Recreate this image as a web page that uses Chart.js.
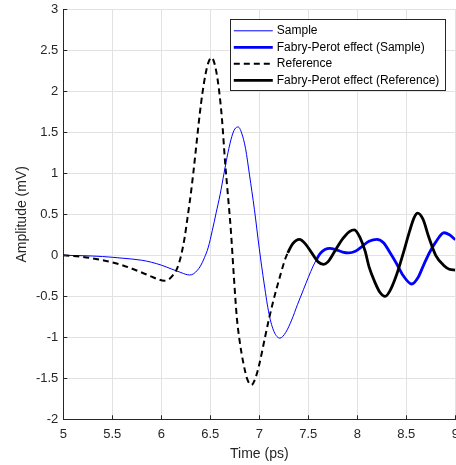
<!DOCTYPE html>
<html>
<head>
<meta charset="utf-8">
<title>Pulse amplitude</title>
<script src="https://cdn.jsdelivr.net/npm/chart.js@4.4.0/dist/chart.umd.min.js"></script>
<style>
	html, body { margin: 0; padding: 0; background: #fff; overflow: hidden; }
	#wrap { position: relative; width: 456px; height: 465px; }
</style>
</head>
<body>
<div id="wrap"><canvas id="pulseChart"></canvas></div>
<script>
/* Axis ticks */
const xTicks = [5, 5.5, 6, 6.5, 7, 7.5, 8, 8.5, 9];
const yTicks = [-2, -1.5, -1, -0.5, 0, 0.5, 1, 1.5, 2, 2.5, 3];

/* Sample pulse (ps, mV) */
const sampleTime = [5.0, 5.2, 5.4, 5.6, 5.8, 5.9, 6.0, 6.1, 6.2, 6.25, 6.29, 6.33, 6.37, 6.4,
	6.44, 6.48, 6.52, 6.56, 6.6, 6.64, 6.68, 6.72, 6.75, 6.785, 6.82, 6.86, 6.9, 6.95, 7.0,
	7.05, 7.1, 7.15, 7.21, 7.27, 7.33, 7.39, 7.45, 7.5, 7.55, 7.58];
const sampleAmp = [0, -0.005, -0.015, -0.035, -0.06, -0.085, -0.12, -0.165, -0.21, -0.232,
	-0.24, -0.225, -0.18, -0.13, -0.03, 0.1, 0.3, 0.52, 0.74, 1.0, 1.25, 1.45, 1.54, 1.565,
	1.49, 1.3, 0.98, 0.56, 0.08, -0.35, -0.72, -0.93, -1.01, -0.94, -0.79, -0.6, -0.42,
	-0.27, -0.13, -0.06];

/* Fabry-Perot echoes of the sample */
const sampleFpTime = [7.58, 7.62, 7.67, 7.72, 7.78, 7.85, 7.91, 7.98, 8.05, 8.12, 8.2, 8.27,
	8.33, 8.4, 8.47, 8.555, 8.62, 8.68, 8.74, 8.8, 8.885, 8.94, 9.0];
const sampleFpAmp = [-0.06, 0.02, 0.07, 0.085, 0.07, 0.04, 0.03, 0.05, 0.11, 0.17, 0.195, 0.15,
	0.04, -0.1, -0.25, -0.35, -0.27, -0.11, 0.04, 0.16, 0.275, 0.25, 0.19];

/* Reference pulse */
const refTime = [5.0, 5.2, 5.4, 5.6, 5.8, 5.9, 5.96, 6.03, 6.08, 6.12, 6.15, 6.18, 6.21, 6.24,
	6.27, 6.3, 6.33, 6.36, 6.39, 6.42, 6.45, 6.48, 6.51, 6.54, 6.58, 6.62, 6.65, 6.68, 6.71,
	6.74, 6.77, 6.8, 6.84, 6.88, 6.92, 6.96, 7.0, 7.06, 7.1, 7.14, 7.18, 7.22, 7.26, 7.29];
const refAmp = [0, -0.02, -0.06, -0.12, -0.21, -0.26, -0.29, -0.31, -0.29, -0.24, -0.19, -0.1,
	0.04, 0.23, 0.48, 0.74, 1.04, 1.37, 1.7, 1.98, 2.2, 2.35, 2.41, 2.35, 2.1, 1.65, 1.15,
	0.73, 0.3, -0.25, -0.75, -1.05, -1.33, -1.52, -1.58, -1.5, -1.33, -0.99, -0.77, -0.57,
	-0.39, -0.22, -0.06, 0.03];

/* Fabry-Perot echoes of the reference */
const refFpTime = [7.29, 7.34, 7.41, 7.47, 7.54, 7.6, 7.655, 7.7, 7.77, 7.85, 7.92, 7.97, 8.03,
	8.08, 8.12, 8.18, 8.23, 8.285, 8.33, 8.4, 8.47, 8.53, 8.58, 8.616, 8.67, 8.73, 8.8, 8.88,
	8.94, 9.0];
const refFpAmp = [0.03, 0.14, 0.195, 0.14, 0.02, -0.08, -0.11, -0.08, 0.05, 0.2, 0.29, 0.31, 0.21,
	0.05, -0.14, -0.33, -0.45, -0.5, -0.44, -0.24, 0.03, 0.28, 0.46, 0.515, 0.44, 0.22, 0.0,
	-0.12, -0.17, -0.18];

const AXIS_COLOR = '#262626';
const GRID_COLOR = '#e2e2e2';
const FONT = '"Liberation Sans", Arial, Helvetica, sans-serif';

/**
 * Pairs time and amplitude arrays into {x, y} points.
 */
function toPoints(time, amp) {
	var pts = [];
	for (var i = 0; i < time.length; i++) {
		pts.push({x: time[i], y: amp[i]});
	}
	return pts;
}

/* Short ticks pointing into the plot, along the left and bottom axes */
const innerTicks = {
	id: 'innerTicks',
	afterDraw(chart) {
		const ctx = chart.ctx;
		const area = chart.chartArea;
		const xs = chart.scales.x, ys = chart.scales.y;
		ctx.save();
		ctx.strokeStyle = AXIS_COLOR;
		ctx.lineWidth = 1;
		ctx.beginPath();
		xTicks.forEach(v => {
			const px = Math.round(xs.getPixelForValue(v)) + 0.5;
			ctx.moveTo(px, area.bottom);
			ctx.lineTo(px, area.bottom - 4);
		});
		yTicks.forEach(v => {
			const py = Math.round(ys.getPixelForValue(v)) + 0.5;
			ctx.moveTo(area.left, py);
			ctx.lineTo(area.left + 4, py);
		});
		ctx.stroke();
		ctx.restore();
	}
};

/* Boxed legend in the upper right corner of the plot */
const boxLegend = {
	id: 'boxLegend',
	afterDraw(chart) {
		const ctx = chart.ctx;
		const area = chart.chartArea;
		const sets = chart.data.datasets;
		ctx.save();
		ctx.font = '12px ' + FONT;
		var textW = 0;
		sets.forEach(ds => { textW = Math.max(textW, ctx.measureText(ds.label).width); });
		const rowH = 16.5;
		const w = 47 + textW + 5;
		const h = rowH * sets.length + 5;
		const right = area.right - 11;
		const top = area.top + 10;
		const left = right - w;

		ctx.fillStyle = '#fff';
		ctx.fillRect(left, top, w, h);
		ctx.strokeStyle = AXIS_COLOR;
		ctx.lineWidth = 1;
		ctx.strokeRect(Math.round(left) + 0.5, Math.round(top) + 0.5, Math.round(w), Math.round(h));

		sets.forEach((ds, i) => {
			const cy = top + 11.5 + i * rowH;
			ctx.beginPath();
			ctx.strokeStyle = ds.borderColor;
			ctx.lineWidth = ds.borderWidth;
			ctx.setLineDash(ds.borderDash || []);
			ctx.moveTo(left + 4, cy);
			ctx.lineTo(left + 43, cy);
			ctx.stroke();
			ctx.setLineDash([]);
			ctx.fillStyle = '#000';
			ctx.textBaseline = 'middle';
			ctx.textAlign = 'left';
			ctx.fillText(ds.label, left + 47, cy);
		});
		ctx.restore();
	}
};

function fmtTick(v) {
	return String(v);
}

const canvas = document.getElementById('pulseChart').getContext('2d');

let pulseChart = new Chart(canvas, {
	type: 'line',
	data: {
		datasets: [
			{
				label: 'Sample',
				data: toPoints(sampleTime, sampleAmp),
				borderColor: '#0000ff',
				borderWidth: 1,
				order: 4
			},
			{
				label: 'Fabry-Perot effect (Sample)',
				data: toPoints(sampleFpTime, sampleFpAmp),
				borderColor: '#0000ff',
				borderWidth: 2.8,
				order: 3
			},
			{
				label: 'Reference',
				data: toPoints(refTime, refAmp),
				borderColor: '#000000',
				borderWidth: 2,
				borderDash: [6, 4],
				order: 2
			},
			{
				label: 'Fabry-Perot effect (Reference)',
				data: toPoints(refFpTime, refFpAmp),
				borderColor: '#000000',
				borderWidth: 2.8,
				order: 1
			}
		]
	},
	options: {
		responsive: true,
		maintainAspectRatio: false,
		animation: false,
		devicePixelRatio: 1,
		elements: {
			point: { radius: 0 },
			line: { cubicInterpolationMode: 'monotone', fill: false }
		},
		layout: {
			padding: { top: 9.3, right: 0.7, left: 0, bottom: 0 }
		},
		plugins: {
			legend: { display: false },
			tooltip: { enabled: false }
		},
		scales: {
			x: {
				type: 'linear',
				min: 5,
				max: 9,
				afterBuildTicks: s => { s.ticks = xTicks.map(v => ({value: v})); },
				afterFit: s => { s.height = 45.7; s.paddingLeft = 0; s.paddingRight = 0; },
				ticks: {
					font: { family: FONT, size: 13 },
					color: AXIS_COLOR,
					padding: 7,
					maxRotation: 0,
					autoSkip: false,
					callback: fmtTick
				},
				grid: { color: GRID_COLOR, drawTicks: false },
				border: { color: AXIS_COLOR, width: 1 },
				title: {
					display: true,
					text: 'Time (ps)',
					color: AXIS_COLOR,
					font: { family: FONT, size: 14 },
					padding: { top: 0, bottom: 2.5 }
				}
			},
			y: {
				type: 'linear',
				min: -2,
				max: 3,
				afterBuildTicks: s => { s.ticks = yTicks.map(v => ({value: v})); },
				afterFit: s => { s.width = 63.3; s.paddingTop = 0; s.paddingBottom = 0; },
				ticks: {
					font: { family: FONT, size: 13 },
					color: AXIS_COLOR,
					padding: 5,
					autoSkip: false,
					callback: fmtTick
				},
				grid: { color: GRID_COLOR, drawTicks: false },
				border: { color: AXIS_COLOR, width: 1 },
				title: {
					display: true,
					text: 'Amplitude (mV)',
					color: AXIS_COLOR,
					font: { family: FONT, size: 14 },
					padding: { top: 14, bottom: 0 }
				}
			}
		}
	},
	plugins: [innerTicks, boxLegend]
});
</script>
</body>
</html>
